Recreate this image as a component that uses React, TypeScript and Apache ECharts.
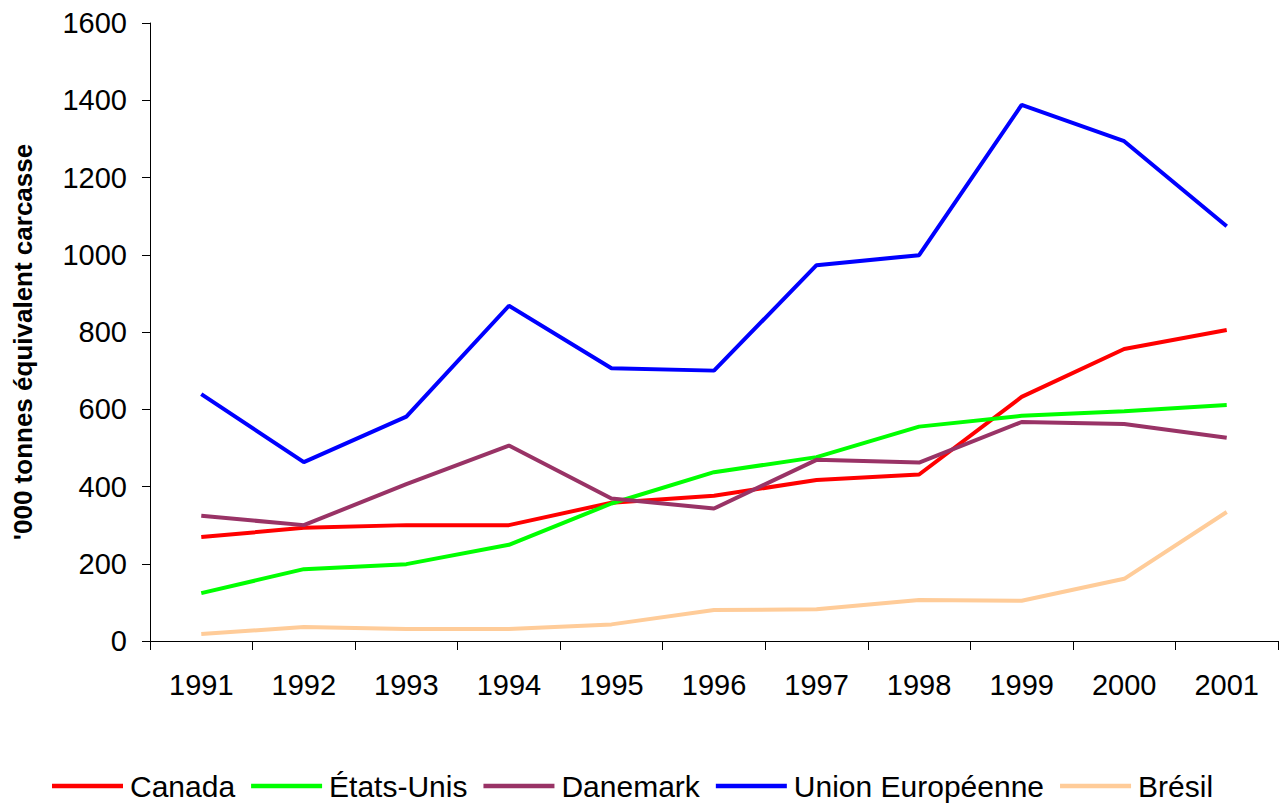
import React, { useEffect, useRef } from "react";
import * as echarts from "echarts";

const years = ["1991", "1992", "1993", "1994", "1995", "1996", "1997", "1998", "1999", "2000", "2001"];
const canada = [269, 293, 300, 300, 358, 376, 417, 431, 632, 756, 805];
const etatsUnis = [124, 186, 199, 249, 356, 437, 476, 555, 583, 595, 611];
const danemark = [324, 300, 406, 506, 369, 343, 469, 462, 567, 562, 526];
const unionEuropeenne = [639, 463, 581, 868, 706, 700, 973, 999, 1388, 1294, 1074];
const bresil = [18, 36, 31, 31, 43, 80, 82, 106, 104, 161, 334];

const seriesDefs = [
  { name: "Canada", data: canada, color: "#FF0000" },
  { name: "États-Unis", data: etatsUnis, color: "#00FF00" },
  { name: "Danemark", data: danemark, color: "#993366" },
  { name: "Union Européenne", data: unionEuropeenne, color: "#0000FF" },
  { name: "Brésil", data: bresil, color: "#FFCC99" },
];

const FONT = "Liberation Sans, Arial, sans-serif";

export default function App() {
  const ref = useRef<HTMLDivElement>(null);
  useEffect(() => {
    if (!ref.current) return;
    const chart = echarts.init(ref.current, undefined, { renderer: "svg" });
    chart.setOption({
      animation: false,
      backgroundColor: "#ffffff",
      textStyle: { fontFamily: FONT },
      grid: { left: 150, top: 23, right: 3, bottom: 163, containLabel: false },
      legend: {
        left: 47,
        top: 766,
        itemWidth: 71,
        itemHeight: 26,
        itemGap: 16,
        icon: "path://M0,0 L100,0 L100,6 L0,6 Z",
        textStyle: { fontSize: 30, color: "#000", fontFamily: FONT, padding: [0, 0, 0, 2] },
        data: seriesDefs.map((s) => ({ name: s.name, itemStyle: { color: s.color } })),
      },
      xAxis: {
        type: "category",
        data: years,
        boundaryGap: true,
        axisLine: { lineStyle: { color: "#000", width: 1 } },
        axisTick: { show: true, length: 9, inside: false, lineStyle: { color: "#000" } },
        axisLabel: { fontSize: 29, color: "#000", margin: 29, fontFamily: FONT },
        splitLine: { show: false },
      },
      yAxis: {
        type: "value",
        min: 0,
        max: 1600,
        interval: 200,
        name: "'000 tonnes équivalent carcasse",
        nameLocation: "middle",
        nameRotate: 90,
        nameGap: 114,
        nameTextStyle: {
          fontSize: 26,
          fontWeight: "bold",
          color: "#000",
          fontFamily: FONT,
          padding: [0, 20, 0, 0],
        },
        axisLine: { show: true, lineStyle: { color: "#000", width: 1 } },
        axisTick: { show: true, length: 8, lineStyle: { color: "#000" } },
        axisLabel: {
          fontSize: 29,
          color: "#000",
          margin: 23,
          fontFamily: FONT,
          formatter: (v: number) => String(v),
        },
        splitLine: { show: false },
      },
      series: seriesDefs.map((s) => ({
        name: s.name,
        type: "line",
        data: s.data,
        showSymbol: false,
        symbol: "none",
        lineStyle: { color: s.color, width: 4 },
        itemStyle: { color: s.color },
      })),
    });
    return () => chart.dispose();
  }, []);
  return (
    <div
      ref={ref}
      style={{ position: "absolute", left: 0, top: 0, width: 1281, height: 804 }}
    />
  );
}
